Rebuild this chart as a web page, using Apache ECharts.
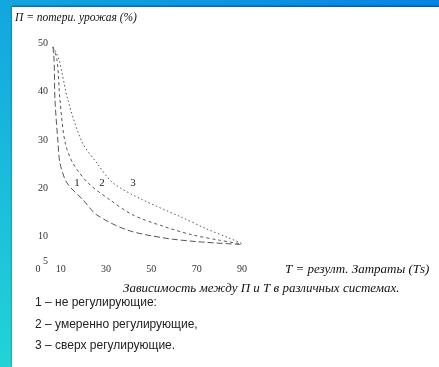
<!DOCTYPE html>
<html>
<head>
<meta charset="utf-8">
<script src="https://cdn.jsdelivr.net/npm/echarts@6/dist/echarts.min.js"></script>
<style>
  body { margin: 0; }
  #frame {
    position: relative; width: 439px; height: 367px; overflow: hidden;
    background: linear-gradient(to top right, #22d4d6 0%, #14aadf 45%, #0684e6 100%);
  }
  #chart {
    position: absolute; left: 12px; top: 7px; width: 427px; height: 360px;
    background: #fff; box-shadow: 0 -1px 2px rgba(0, 0, 0, 0.45);
  }
</style>
</head>
<body>
<div id="frame"><div id="chart"></div></div>
<script>
// оси
const xTicks = [0, 10, 30, 50, 70, 90];
const yTicks = [5, 10, 20, 30, 40, 50];

// кривые [T, П]
const curve1 = [[6.6, 49.2], [7.1, 46.5], [7.5, 38.2], [8.8, 29.6], [9.7, 25.2], [12.8, 21.1],
  [19.9, 17.6], [26.0, 14.5], [39.3, 11.4], [55, 9.8], [70, 9.0], [90, 8.4]];
const curve2 = [[6.6, 49.2], [8.4, 46.5], [9.7, 38.2], [11.9, 29.6], [15.4, 25.2], [22.1, 21.1],
  [31.8, 17.6], [41.9, 14.5], [55, 12.2], [68, 10.4], [80, 9.3], [90, 8.5]];
const curve3 = [[6.6, 49.2], [9.3, 46.5], [13.2, 38.2], [19.4, 29.6], [26.0, 25.2], [33.1, 21.1],
  [46.3, 17.6], [62.6, 14.2], [74.5, 11.6], [84, 9.8], [90, 8.6]];

// номера кривых
const curveNames = ['1', '2', '3'];
const namePos = [[17.2, 21.1], [28.2, 21.1], [41.9, 21.1]];

const legendLines = [
  '1 – не регулирующие:',
  '2 – умеренно регулирующие,',
  '3 – сверх регулирующие.'
];

const chart = echarts.init(document.getElementById('chart'));

const lineColor = '#555';
const dashes = [[6, 3], [3, 3], [1.5, 2.5]];
const curves = [curve1, curve2, curve3];

const series = curves.map((c, i) => ({
  type: 'line',
  data: c,
  smooth: 0.3,
  symbol: 'none',
  lineStyle: { color: lineColor, width: 1, type: dashes[i] },
  markPoint: {
    symbol: 'circle', symbolSize: 0,
    label: { show: true, formatter: curveNames[i], color: '#222', fontSize: 11, fontFamily: 'Liberation Serif' },
    data: [{ coord: namePos[i] }]
  },
  silent: true,
  animation: false
}));

const serifItalic = { fontFamily: 'Liberation Serif', fontStyle: 'italic', fontWeight: 'normal', color: '#111' };

const titles = [
  { text: 'П = потери. урожая (%)', left: -2, top: 0, textStyle: Object.assign({ fontSize: 11.5 }, serifItalic) },
  { text: 'Зависимость между П и Т в различных системах.', left: 106, top: 270, textStyle: Object.assign({ fontSize: 13 }, serifItalic) }
];
legendLines.forEach((t, i) => {
  titles.push({
    text: t, left: 18, top: 285 + i * 21.5,
    textStyle: { fontFamily: 'Liberation Sans', fontWeight: 'normal', fontSize: 12, color: '#222' }
  });
});

chart.setOption({
  backgroundColor: 'transparent',
  title: titles,
  grid: { left: 26, right: 197, top: 36, bottom: 106 },
  xAxis: {
    type: 'value', min: 0, max: 90, interval: 10,
    axisLine: { show: false }, axisTick: { show: false }, splitLine: { show: false },
    axisLabel: {
      margin: 3, color: '#333', fontSize: 10, fontFamily: 'Liberation Serif',
      formatter: v => (xTicks.includes(v) ? String(v) : '')
    },
    name: 'Т = резулт. Затраты (Тs)',
    nameLocation: 'end', nameGap: 43,
    nameTextStyle: Object.assign({ fontSize: 13, verticalAlign: 'top', padding: [2, 0, 0, 0] }, serifItalic)
  },
  yAxis: {
    type: 'value', min: 5, max: 50, interval: 5,
    axisLine: { show: false }, axisTick: { show: false }, splitLine: { show: false },
    axisLabel: {
      margin: -10, color: '#333', fontSize: 10, fontFamily: 'Liberation Serif',
      formatter: v => (yTicks.includes(v) ? String(v) : '')
    }
  },
  series: series
});
</script>
</body>
</html>
